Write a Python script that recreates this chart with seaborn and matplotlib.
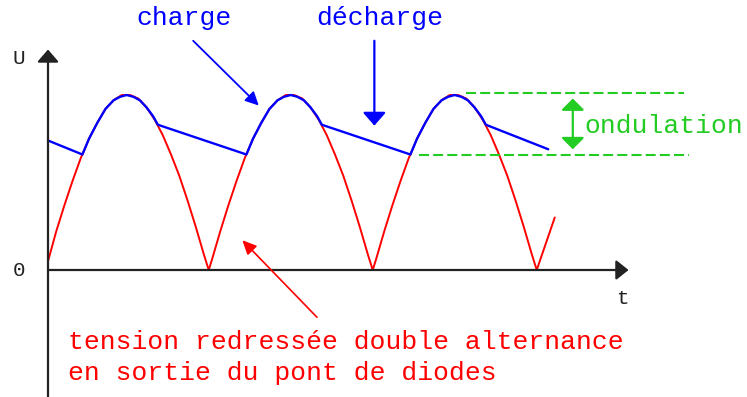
import matplotlib
matplotlib.use("Agg")
import matplotlib.pyplot as plt
import seaborn as sns

# ── Data (t in ms, U in volts) ────────────────────────────────────────────────
# full-wave rectified voltage (red)
red_t = [0, 0.5, 1, 1.5, 2, 2.5, 3, 3.5, 4, 4.5, 5, 5.5, 6, 6.5, 7, 7.5, 8, 8.5, 9, 9.5, 9.8,
         10, 10.5, 11, 11.5, 12, 12.5, 13, 13.5, 14, 14.5, 15, 15.5, 16, 16.5, 17, 17.5,
         18, 18.5, 19, 19.5, 19.8,
         20, 20.5, 21, 21.5, 22, 22.5, 23, 23.5, 24, 24.5, 25, 25.5, 26, 26.5, 27, 27.5,
         28, 28.5, 29, 29.5, 29.8, 30.9]
red_u = [0.5, 2.2, 3.7, 5.1, 6.4, 7.5, 8.4, 9.2, 9.7, 10.0, 10.0, 9.8, 9.3, 8.6, 7.7, 6.6,
         5.4, 4.0, 2.5, 0.9, 0.0,
         0.6, 2.2, 3.7, 5.1, 6.4, 7.5, 8.4, 9.2, 9.7, 10.0, 10.0, 9.8, 9.3, 8.6, 7.7, 6.6,
         5.4, 4.0, 2.5, 0.9, 0.0,
         0.6, 2.2, 3.7, 5.1, 6.4, 7.5, 8.4, 9.2, 9.7, 10.0, 10.0, 9.8, 9.3, 8.6, 7.7, 6.6,
         5.4, 4.0, 2.5, 0.9, 0.0, 3.0]

# filtered voltage (blue): charge arcs + linear discharge
blue_t = [0, 2.1, 2.5, 3, 3.5, 4, 4.4, 4.8, 5.2, 5.6, 6, 6.4, 6.7,
          12.1, 12.5, 13, 13.5, 14, 14.4, 14.8, 15.2, 15.6, 16, 16.4, 16.7,
          22.1, 22.5, 23, 23.5, 24, 24.4, 24.8, 25.2, 25.6, 26, 26.4, 26.7,
          30.5]
blue_u = [7.4, 6.6, 7.5, 8.4, 9.2, 9.7, 9.9, 10.0, 9.9, 9.7, 9.3, 8.8, 8.3,
          6.6, 7.5, 8.4, 9.2, 9.7, 9.9, 10.0, 9.9, 9.7, 9.3, 8.8, 8.3,
          6.6, 7.5, 8.4, 9.2, 9.7, 9.9, 10.0, 9.9, 9.7, 9.3, 8.8, 8.3,
          6.9]

ripple_levels = [10.1, 6.55]
ripple_start = [25.5, 22.6]
ripple_end = [38.8, 39.1]

axis_u_top = 12.6
axis_t_end = 35.4

labels = {"charge": "charge", "discharge": "décharge", "ripple": "ondulation",
          "red": "tension redressée double alternance\nen sortie du pont de diodes"}

BLUE = "#0000ff"
RED = "#ff0000"
GREEN = "#22cc22"
DARK = "#222222"
FS = 19

# ── Style ─────────────────────────────────────────────────────────────────────
sns.set_style("white")
plt.rcParams["font.family"] = ["Liberation Mono", "DejaVu Sans Mono"]

fig = plt.figure(figsize=(7.47, 3.97), dpi=100)
ax = fig.add_axes([0, 0, 1, 1])
ax.set_xlim(-48 / 16.4, (747 - 48) / 16.4)
ax.set_ylim(-127 / 17.5, 270 / 17.5)
ax.axis("off")


def arrow(tail, tip, color, hl, hw, lw=1.3, style="-|>"):
    ax.annotate("", xy=tip, xytext=tail,
                arrowprops=dict(arrowstyle=f"{style},head_length={hl},head_width={hw}",
                                mutation_scale=1, color=color, lw=lw,
                                shrinkA=0, shrinkB=0))


# axes with arrow heads
arrow((0, -7.3), (0, axis_u_top), DARK, 7.5, 6.5, lw=1.6)
arrow((0, 0), (axis_t_end, 0), DARK, 7.5, 6.0, lw=1.6)
ax.text(-1.8, 12.1, "U", color=DARK, fontsize=15, ha="center", va="center")
ax.text(-1.75, 0.0, "0", color=DARK, fontsize=15, ha="center", va="center")
ax.text(35.0, -1.6, "t", color=DARK, fontsize=15, ha="center", va="center")

# curves
sns.lineplot(x=red_t, y=red_u, color=RED, lw=1.4, estimator=None, sort=False, ax=ax)
sns.lineplot(x=blue_t, y=blue_u, color=BLUE, lw=1.7, estimator=None, sort=False, ax=ax)

# ripple markers
for lvl, t0, t1 in zip(ripple_levels, ripple_start, ripple_end):
    ax.hlines(lvl, t0, t1, color=GREEN, lw=1.5, linestyles=(0, (4.8, 2.0)))
arrow((32.0, 9.8), (32.0, 6.9), GREEN, 7.0, 7.0, lw=1.6, style="<|-|>")
ax.text(32.7, 8.25, labels["ripple"], color=GREEN, fontsize=FS,
        ha="left", va="center")

# annotations
ax.text(8.3, 14.4, labels["charge"], color=BLUE, fontsize=FS, ha="center", va="center")
arrow((8.85, 13.1), (12.85, 9.4), BLUE, 8.0, 4.0)
ax.text(20.2, 14.4, labels["discharge"], color=BLUE, fontsize=FS, ha="center", va="center")
arrow((19.9, 13.1), (19.9, 8.25), BLUE, 8.0, 7.0, lw=1.6)
arrow((16.4, -2.7), (11.85, 1.7), RED, 8.5, 4.0, lw=1.2)
ax.text(1.2, -5.0, labels["red"], color=RED, fontsize=FS, ha="left", va="center",
        linespacing=1.42)

fig.savefig("out.png", dpi=100)
